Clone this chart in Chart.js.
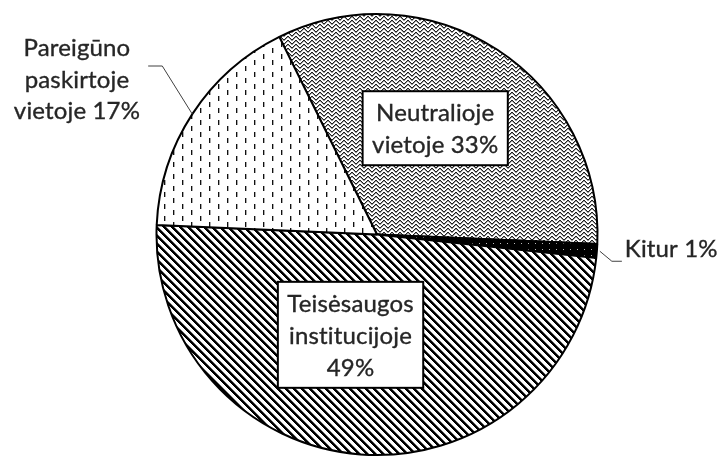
<!DOCTYPE html>
<html><head><meta charset="utf-8">
<script src="https://cdn.jsdelivr.net/npm/chart.js@4.4.0/dist/chart.umd.min.js"></script>
<style>html,body{margin:0;padding:0;background:#fff;}#wrap{width:718px;height:457px;position:relative}</style>
</head><body><div id="wrap"><canvas id="c" width="718" height="457"></canvas></div>
<script>
// ---- data ----
const categories = ['Neutralioje vietoje', 'Kitur', 'Teisėsaugos institucijoje', 'Pareigūno paskirtoje vietoje'];
const values = [33, 1, 49, 17];
const categoryLines = [['Neutralioje', 'vietoje'], ['Kitur'], ['Teisėsaugos', 'institucijoje'], ['Pareigūno', 'paskirtoje', 'vietoje']];
const valueOnOwnLine = [false, false, true, false];
const startRotation = -26.3;

function buildLabel(i) {
  const lines = categoryLines[i].slice();
  const v = values[i] + '%';
  if (valueOnOwnLine[i]) lines.push(v); else lines[lines.length - 1] += ' ' + v;
  return lines;
}

const canvas = document.getElementById('c');
const ctx = canvas.getContext('2d');

function pixelPattern(w, h, fn, bg) {
  const c = document.createElement('canvas'); c.width = w; c.height = h;
  const x = c.getContext('2d');
  x.fillStyle = bg; x.fillRect(0, 0, w, h);
  for (let i = 0; i < w; i++) for (let j = 0; j < h; j++) {
    const col = fn(i, j);
    if (col) { x.fillStyle = col; x.fillRect(i, j, 1, 1); }
  }
  return ctx.createPattern(c, 'repeat');
}
const mod = (a, n) => ((a % n) + n) % n;

// zigzag / weave (gray look)
const patNeutral = pixelPattern(8, 8, (x, y) => {
  const tri = x < 4 ? x : 7 - x;
  const d = mod(y - tri, 4);
  if (d === 0) return '#222';
  if (d === 1) return '#9a9a9a';
  return null;
}, '#fff');
// black with white dots
const patKitur = pixelPattern(7, 6, (x, y) => (x === 3 && y === 3) ? '#bbb' : '#000', '#000');
// diagonal stripes "\"
const patTeis = pixelPattern(8, 8, (x, y) => {
  const d = mod(x - y, 8);
  if (d <= 2) return '#000';
  if (d === 3) return '#777';
  return null;
}, '#fff');
// dashed vertical
const patPar = pixelPattern(18, 12, (x, y) => {
  if (x === 2 && y >= 0 && y <= 4) return '#111';
  if (x === 11 && y >= 6 && y <= 10) return '#111';
  if (x === 3 && y >= 0 && y <= 4) return '#aaa';
  if (x === 12 && y >= 6 && y <= 10) return '#aaa';
  return null;
}, '#fff');

const FONT = '24px Lato';
const TEXT = '#262626';
const LH = 32;

const labelPlugin = {
  id: 'labels',
  afterDatasetsDraw(chart) {
    const c = chart.ctx;
    const arcs = chart.getDatasetMeta(0).data;
    const cx = arcs[0].x, cy = arcs[0].y, R = arcs[0].outerRadius;
    const mid = i => (arcs[i].startAngle + arcs[i].endAngle) / 2;
    c.save();
    c.font = FONT;
    if ('letterSpacing' in c) c.letterSpacing = '0.15px';
    c.fillStyle = TEXT;
    c.lineJoin = 'miter';

    function txt(s, x, y) {
      c.fillText(s, x, y);
      c.lineWidth = 0.35; c.strokeStyle = TEXT; c.strokeText(s, x, y);
    }

    function box(i, fx, fy) {
      const lines = buildLabel(i);
      const bx = cx + fx * R, by = cy + fy * R;
      const w = Math.max(...lines.map(l => c.measureText(l).width)) + 19;
      const h = lines.length * LH + 10;
      c.fillStyle = '#fff';
      c.fillRect(bx - w / 2, by - h / 2, w, h);
      c.strokeStyle = '#000'; c.lineWidth = 2;
      c.strokeRect(bx - w / 2, by - h / 2, w, h);
      c.fillStyle = TEXT; c.textAlign = 'center'; c.textBaseline = 'alphabetic';
      lines.forEach((l, k) => txt(l, bx, by - h / 2 + 5 + LH * k + 25));
    }
    box(0, 0.264, -0.482);
    box(2, -0.12, 0.455);

    // Pareigūno outside label
    {
      const a = mid(3);
      const ex = cx + Math.cos(a) * R, ey = cy + Math.sin(a) * R;
      const elx = ex - 0.136 * R, ely = ey - 0.218 * R;
      const hx = elx - 0.064 * R;
      c.strokeStyle = '#404040'; c.lineWidth = 1;
      c.beginPath(); c.moveTo(ex, ey); c.lineTo(elx, ely); c.lineTo(hx, ely); c.stroke();
      const lines = buildLabel(3);
      c.fillStyle = TEXT; c.textAlign = 'center'; c.textBaseline = 'alphabetic';
      const tx = hx - 0.323 * R;
      lines.forEach((l, k) => txt(l, tx, ely - 10 + 31.5 * k));
    }
    // Kitur outside label
    {
      const a = mid(1);
      const ex = cx + Math.cos(a) * (R + 3), ey = cy + Math.sin(a) * (R + 3);
      const elx = ex + 12, ely = ey + 10;
      const hx = elx + 10;
      c.strokeStyle = '#404040'; c.lineWidth = 1;
      c.beginPath(); c.moveTo(ex, ey); c.lineTo(elx, ely); c.lineTo(hx, ely); c.stroke();
      c.fillStyle = TEXT; c.textAlign = 'left'; c.textBaseline = 'alphabetic';
      txt(buildLabel(1)[0], hx + 3, ely - 4);
    }
    c.restore();
  }
};

new Chart(canvas, {
  type: 'pie',
  data: {
    labels: categories,
    datasets: [{
      data: values,
      backgroundColor: [patNeutral, patKitur, patTeis, patPar],
      borderColor: '#000',
      borderWidth: 2
    }]
  },
  options: {
    responsive: false,
    devicePixelRatio: 1,
    animation: false,
    rotation: startRotation,
    layout: { padding: { left: 36, right: 0, top: 13, bottom: 1 } },
    plugins: { legend: { display: false }, tooltip: { enabled: false } }
  },
  plugins: [labelPlugin]
});
</script></body></html>
